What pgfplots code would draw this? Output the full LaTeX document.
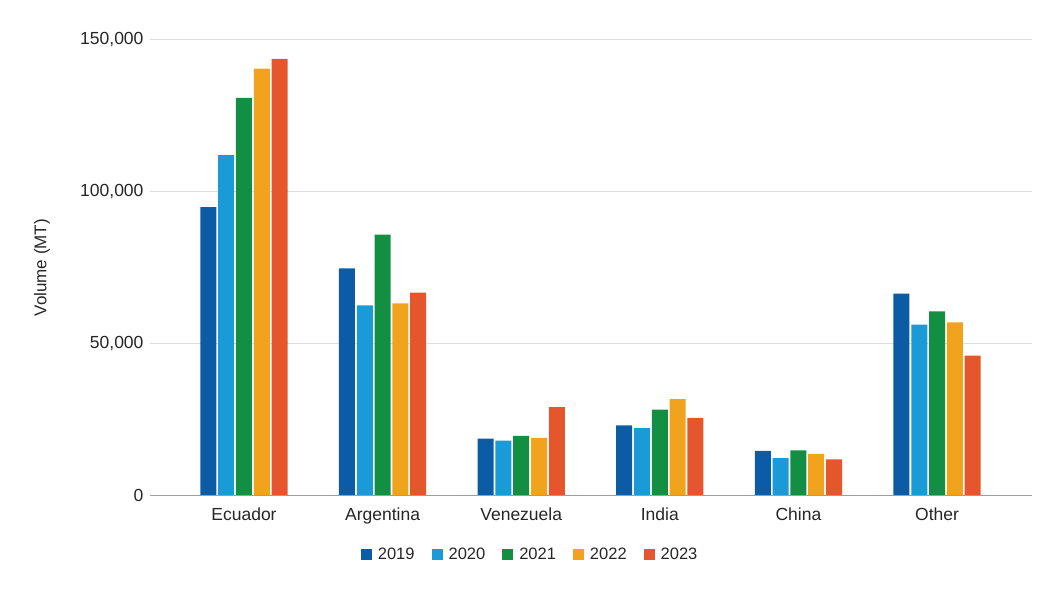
\documentclass[border=0pt]{standalone}
\usepackage{pgfplots}
\pgfplotsset{compat=1.18}
\usepackage{fontspec}
\setmainfont{Liberation Sans}

\definecolor{c19}{HTML}{0B5CA5}
\definecolor{c20}{HTML}{1A9AD6}
\definecolor{c21}{HTML}{138F43}
\definecolor{c22}{HTML}{F2A31E}
\definecolor{c23}{HTML}{E5562D}
\definecolor{gridc}{HTML}{DDDDDD}
\definecolor{basec}{HTML}{9E9E9E}

\begin{document}
\begin{tikzpicture}
\useasboundingbox (0,0) rectangle (1061pt,597pt);
\begin{axis}[
  at={(150pt,101.5pt)}, anchor=south west,
  width=882pt, height=455.5pt, scale only axis,
  ybar, bar width=16pt,
  xmin=-0.678, xmax=5.685, ymin=0, ymax=150000,
  xtick={0,1,2,3,4,5},
  xticklabels={Ecuador, Argentina, Venezuela, India, China, Other},
  ytick={0,50000,100000,150000},
  yticklabels={0, {50,000}, {100,000}, {150,000}},
  scaled y ticks=false,
  axis line style={draw=none},
  major tick length=0pt,
  ymajorgrids, grid style={gridc, line width=1pt},
  tick label style={font=\fontsize{17.5}{20}\selectfont, text=black!85},
  xticklabel style={yshift=-9pt},
  yticklabel style={xshift=-3pt},
  ylabel={Volume (MT)},
  ylabel style={font=\fontsize{17}{20}\selectfont, text=black!85,
    at={(axis description cs:-0.1224,0.5)}, anchor=center},
  legend style={at={(axis description cs:0.431,-0.1306)}, anchor=center,
    draw=none, fill=none, legend columns=-1,
    font=\fontsize{16.5}{20}\selectfont, text=black!85,
    /tikz/every odd column/.append style={column sep=4pt},
    /tikz/every even column/.append style={column sep=15pt}},
  legend image code/.code={\fill[#1] (0pt,-5.5pt) rectangle (11pt,5.5pt);},
]
\addplot[fill=c19, draw=none, bar shift=-35.6pt] coordinates
  {(0,95000) (1,74800) (2,18700) (3,23100) (4,14700) (5,66500)};
\addplot[fill=c20, draw=none, bar shift=-17.8pt] coordinates
  {(0,112100) (1,62600) (2,18100) (3,22200) (4,12300) (5,56300)};
\addplot[fill=c21, draw=none, bar shift=0pt] coordinates
  {(0,130900) (1,85900) (2,19600) (3,28300) (4,14900) (5,60600)};
\addplot[fill=c22, draw=none, bar shift=17.8pt] coordinates
  {(0,140600) (1,63300) (2,19000) (3,31700) (4,13700) (5,57000)};
\addplot[fill=c23, draw=none, bar shift=35.6pt] coordinates
  {(0,143800) (1,66800) (2,29100) (3,25600) (4,11900) (5,46100)};
\legend{2019, 2020, 2021, 2022, 2023}
\draw[basec, line width=1.8pt] (axis cs:-0.678,0) -- (axis cs:5.685,0);
\end{axis}
\end{tikzpicture}
\end{document}
